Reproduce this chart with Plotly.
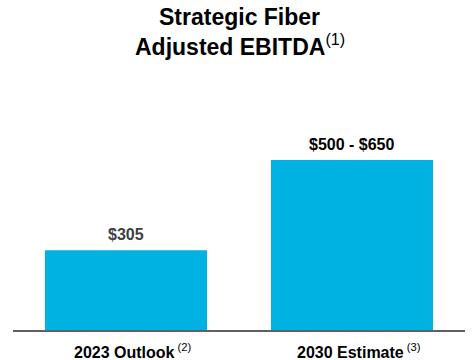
import plotly.graph_objects as go

categories = ["<b>2023 Outlook</b><sup> (2)</sup>", "<b>2030 Estimate</b><sup> (3)</sup>"]
values = [305, 650]
labels = ["<b>$305</b>", "<b>$500 - $650</b>"]
label_colors = ["#404040", "#000000"]
title_lines = ["<b>Strategic Fiber</b>", "<b>Adjusted EBITDA</b><sup>(1)</sup>"]

FONT = "Liberation Sans, Arial, sans-serif"

W, H = 472, 360
L, R, T, B = 13, 7, 60, 30
plot_h = H - T - B

fig = go.Figure(go.Bar(
    x=[0, 1],
    y=values,
    width=0.717,
    marker=dict(color="#00B2E2", line=dict(width=0)),
    hoverinfo="skip",
))

for i, (v, lab, col) in enumerate(zip(values, labels, label_colors)):
    fig.add_annotation(
        x=i, y=v, xref="x", yref="y", text=lab, showarrow=False,
        yanchor="middle", xanchor="center", yshift=15.5,
        font=dict(family=FONT, size=16, color=col),
    )

for i, cat in enumerate(categories):
    fig.add_annotation(
        x=i, y=0, xref="x", yref="y", text=cat, showarrow=False,
        yanchor="middle", xanchor="center", yshift=-21, xshift=7,
        font=dict(family=FONT, size=16, color="#000000"),
    )

title_px = [17, 45]
for line, py in zip(title_lines, title_px):
    fig.add_annotation(
        x=0.502, y=(H - B - py) / plot_h, xref="paper", yref="paper",
        text=line, showarrow=False, xanchor="center", yanchor="middle",
        font=dict(family=FONT, size=23, color="#000000"),
    )

fig.update_layout(
    width=W, height=H,
    margin=dict(l=L, r=R, t=T, b=B, autoexpand=False),
    paper_bgcolor="white", plot_bgcolor="white",
    showlegend=False,
    hovermode=False,
    xaxis=dict(
        range=[-0.5, 1.5], showticklabels=False,
        showline=True, linecolor="#606060", linewidth=2,
        showgrid=False, zeroline=False, ticks="",
        fixedrange=True, automargin=False,
    ),
    yaxis=dict(
        range=[0, 1032], visible=False, showgrid=False, zeroline=False, fixedrange=True,
    ),
)

fig.write_html(
    "out.html",
    config={"displayModeBar": False, "staticPlot": True},
    post_script="document.body.style.margin='0';document.body.style.overflow='hidden';",
)
